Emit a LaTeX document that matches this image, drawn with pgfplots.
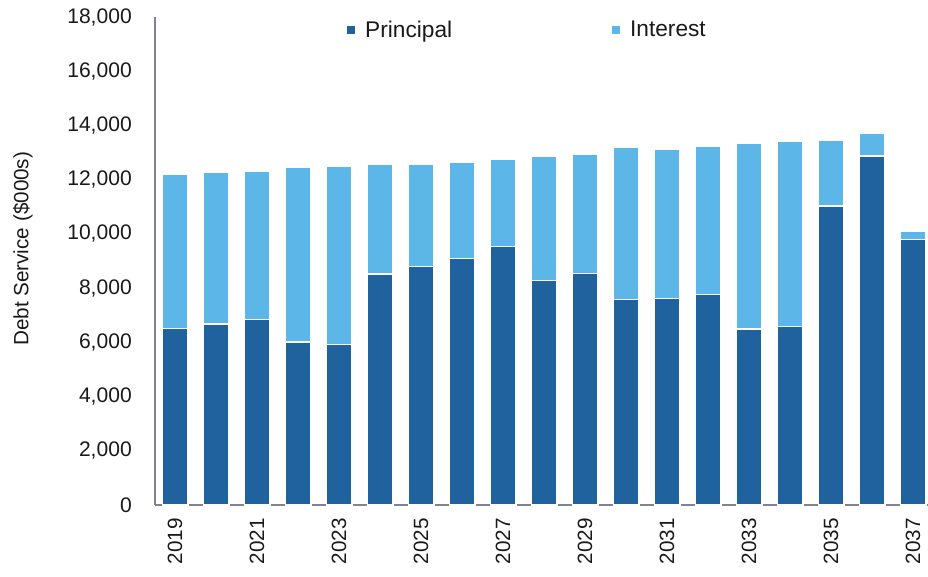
\documentclass[border=0pt]{standalone}
\usepackage{pgfplots}
\pgfplotsset{compat=1.18}
\usepackage{pgfplotstable}
\usepackage{fontspec}
\setmainfont{Liberation Sans}
\definecolor{princ}{RGB}{31,98,158}
\definecolor{inter}{RGB}{92,182,232}
\definecolor{axisgray}{RGB}{130,130,150}
\definecolor{txt}{RGB}{25,25,25}
\pgfplotstableread{
x P I
0 6520 5680
1 6680 5580
2 6850 5470
3 6010 6430
4 5930 6570
5 8520 4050
6 8790 3780
7 9100 3530
8 9530 3230
9 8270 4590
10 8550 4380
11 7590 5590
12 7610 5520
13 7750 5470
14 6490 6850
15 6580 6820
16 11030 2430
17 12870 840
18 9780 330
}\datatable
\begin{document}
\begin{tikzpicture}
\begin{axis}[
  at={(0,0)}, anchor=south west,
  scale only axis,
  width=583.9pt, height=366pt,
  xmin=-0.49, xmax=18.5,
  ymin=0, ymax=18000,
  enlargelimits=false,
  axis lines*=left,
  axis line style={axisgray, line width=1.1pt},
  ybar stacked,
  bar width=0.63,
  major tick length=0pt,
  ytick={0,2000,...,18000},
  xtick={0,2,...,18},
  xticklabels={2019,2021,2023,2025,2027,2029,2031,2033,2035,2037},
  /pgf/number format/assume math mode=true,
  /pgf/number format/1000 sep={,},
  scaled y ticks=false,
  yticklabel style={font=\fontsize{15.8}{18}\selectfont, text=txt, anchor=east, inner xsep=17.25pt, inner ysep=0pt},
  xticklabel style={font=\fontsize{15.5}{17}\selectfont, text=txt, rotate=90, anchor=east, inner xsep=9.75pt, inner ysep=0pt},
  ylabel={Debt Service (\$000s)},
  ylabel style={at={(axis description cs:-0.1696,0.525)}, anchor=center, font=\fontsize{15.5}{18}\selectfont, text=txt},
  legend style={draw=none, fill=none, at={(0.2466,0.973)}, anchor=west, inner sep=0pt,
    font=\fontsize{17}{20}\selectfont, text=txt,
    nodes={inner sep=0pt},
    /tikz/every odd column/.append style={column sep=7.5pt},
    /tikz/every even column/.append style={column sep=120pt}},
  legend columns=2,
  legend cell align=left,
  legend image code/.code={\path[#1, draw=none] (0pt,-3pt) rectangle (6pt,3pt);},
]
\addplot[fill=princ, draw=white, line width=0.9pt] table[x=x, y=P] {\datatable};
\addplot[fill=inter, draw=white, line width=0.9pt] table[x=x, y=I] {\datatable};
\legend{Principal, Interest}
\end{axis}
\pgfresetboundingbox
\path[use as bounding box] (-116.25pt,-53.25pt) rectangle (579.75pt,378.75pt);
\end{tikzpicture}
\end{document}
